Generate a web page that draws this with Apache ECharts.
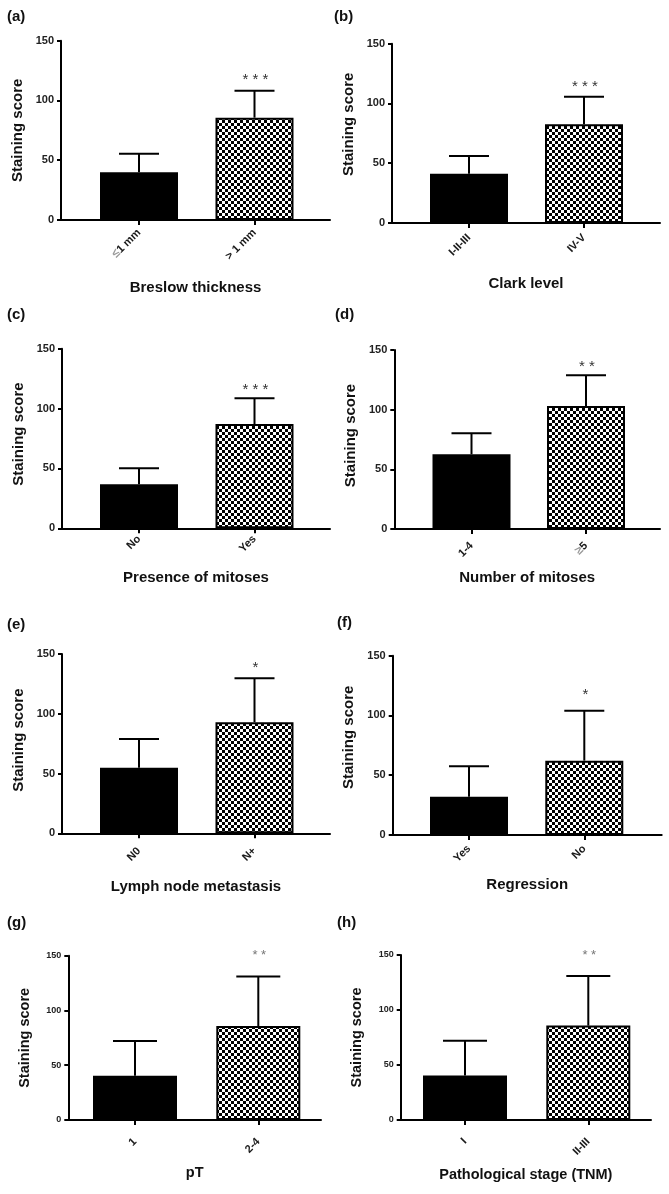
<!DOCTYPE html>
<html>
<head>
<meta charset="utf-8">
<script src="https://cdn.jsdelivr.net/npm/echarts@6/dist/echarts.min.js"></script>
<style>
html,body{margin:0;padding:0;background:#fff;}
#chart{width:669px;height:1194px;}
</style>
</head>
<body>
<div id="chart"></div>
<script>
// ---- data ----
const panelLabels = ['(a)', '(b)', '(c)', '(d)', '(e)', '(f)', '(g)', '(h)'];
const xTitles = ['Breslow thickness', 'Clark level', 'Presence of mitoses', 'Number of mitoses',
  'Lymph node metastasis', 'Regression', 'pT', 'Pathological stage (TNM)'];
const yTitle = 'Staining score';
const yTicks = [0, 50, 100, 150];

const catA = ['≤1 mm', '> 1 mm'];
const catB = ['I-II-III', 'IV-V'];
const catC = ['No', 'Yes'];
const catD = ['1-4', '≥5'];
const catE = ['N0', 'N+'];
const catF = ['Yes', 'No'];
const catG = ['1', '2-4'];
const catH = ['I', 'II-III'];

const meanA = [40, 85.6],  errA = [15.5, 22.6];
const meanB = [41.2, 82.6], errB = [14.8, 23.1];
const meanC = [36.7, 87.1], errC = [13.4, 21.5];
const meanD = [62.6, 103],  errD = [17.6, 25.8];
const meanE = [54.9, 92.9], errE = [24, 36.8];
const meanF = [32, 62.2],   errF = [25.5, 41.8];
const meanG = [40.5, 85.8], errG = [31.6, 45.1];
const meanH = [40.5, 85.8], errH = [31.6, 45.1];

const stars = ['***', '***', '***', '**', '*', '*', '**', '**'];

const cats = [catA, catB, catC, catD, catE, catF, catG, catH];
const means = [meanA, meanB, meanC, meanD, meanE, meanF, meanG, meanH];
const errs = [errA, errB, errC, errD, errE, errF, errG, errH];

// ---- layout (pixels) ----
const layout = [
  {L:61,    R:330,   c1:139,   c2:254.5, T:40.7,  B:220,   bw:78, hw:20, tick:11, nm:15, gapX:60, lm:11, yShift:0,  starOff:15, starSize:15, starCol:'#333', lx:7,   ly:9},
  {L:392,   R:660,   c1:469,   c2:584,   T:43.7,  B:223,   bw:78, hw:20, tick:11, nm:15, gapX:53, lm:13, yShift:18, starOff:14, starSize:15, starCol:'#333', lx:334, ly:9},
  {L:62,    R:330,   c1:139,   c2:254.5, T:348.7, B:528.3, bw:78, hw:20, tick:11, nm:15, gapX:42, lm:9,  yShift:9,  starOff:12, starSize:15, starCol:'#333', lx:7,   ly:307},
  {L:394.3, R:660,   c1:471.5, c2:586,   T:350,   B:529,   bw:78, hw:20, tick:11, nm:15, gapX:41, lm:15, yShift:8,  starOff:12, starSize:15, starCol:'#333', lx:335, ly:307},
  {L:62,    R:330,   c1:139,   c2:254.5, T:654,   B:833.3, bw:78, hw:20, tick:11, nm:15, gapX:46, lm:16, yShift:7,  starOff:14, starSize:15, starCol:'#333', lx:7,   ly:617},
  {L:392.7, R:661.7, c1:469,   c2:584.3, T:655.7, B:835,   bw:78, hw:20, tick:11, nm:15, gapX:42, lm:12, yShift:16, starOff:20, starSize:15, starCol:'#333', lx:337, ly:615},
  {L:68.3,  R:321,   c1:135,   c2:258.3, T:955.7, B:1120,  bw:84, hw:22, tick:9,  nm:14.5, gapX:45, lm:20, yShift:0, starOff:24, starSize:13, starCol:'#777', lx:7,   ly:915},
  {L:400.7, R:651,   c1:465,   c2:588.3, T:955,   B:1120,  bw:84, hw:22, tick:9,  nm:14.5, gapX:47, lm:20, yShift:0, starOff:24, starSize:13, starCol:'#777', lx:337, ly:915}
];

const FONT = "'Liberation Sans', Arial, sans-serif";

// checkerboard pattern
const pat = document.createElement('canvas');
pat.width = 6; pat.height = 6;
const pc = pat.getContext('2d');
pc.fillStyle = '#fff'; pc.fillRect(0, 0, 6, 6);
pc.fillStyle = '#000'; pc.fillRect(0, 0, 3, 3); pc.fillRect(3, 3, 3, 3);
const pattern = { image: pat, repeat: 'repeat' };

const grids = [], xAxes = [], yAxes = [], series = [], titles = [];

layout.forEach((g, i) => {
  const sp = g.c2 - g.c1;
  const xmin = 1 - (g.c1 - g.L) / sp;
  const xmax = 2 + (g.R - g.c2) / sp;
  const c = cats[i];
  grids.push({ left: g.L, top: g.T, width: g.R - g.L, height: g.B - g.T,
    containLabel: false, outerBoundsMode: 'none' });
  xAxes.push({
    type: 'value', gridIndex: i, min: xmin, max: xmax,
    name: xTitles[i], nameLocation: 'middle', nameGap: g.gapX, nameMoveOverlap: false,
    nameTextStyle: { fontFamily: FONT, fontWeight: 'bold', fontSize: g.nm, color: '#111' },
    splitLine: { show: false },
    axisLine: { show: true, onZero: false, lineStyle: { color: '#000', width: 2 } },
    axisTick: { show: true, length: 5, customValues: [1, 2], lineStyle: { color: '#000', width: 2 } },
    axisLabel: {
      customValues: [1, 2], rotate: 45, margin: g.lm,
      fontFamily: FONT, fontSize: 11, fontWeight: 'bold', color: '#1a1a1a',
      formatter: v => {
        const s = c[Math.round(v) - 1] || '';
        return s.replace(/([≤≥])/g, '{g|$1}');
      },
      rich: { g: { color: '#9a9a9a', fontSize: 12, fontFamily: FONT } }
    }
  });
  yAxes.push({
    type: 'value', gridIndex: i, min: yTicks[0], max: yTicks[yTicks.length - 1],
    interval: yTicks[1] - yTicks[0],
    name: yTitle, nameLocation: 'middle', nameGap: 36, nameRotate: 90,
    nameTextStyle: { fontFamily: FONT, fontWeight: 'bold', fontSize: g.nm, color: '#111',
      padding: [0, 0, 0, g.yShift] },
    splitLine: { show: false },
    axisLine: { show: true, lineStyle: { color: '#000', width: 2 } },
    axisTick: { show: true, length: 4, lineStyle: { color: '#000', width: 2 } },
    axisLabel: { fontFamily: FONT, fontWeight: 'bold', fontSize: g.tick, color: '#222', margin: 7 }
  });
  series.push({
    type: 'bar', xAxisIndex: i, yAxisIndex: i, barWidth: g.bw,
    data: means[i].map((m, k) => ({
      value: [k + 1, m],
      itemStyle: k === 0
        ? { color: '#000', borderColor: '#000', borderWidth: 0 }
        : { color: pattern, borderColor: '#000', borderWidth: 2 }
    })),
    z: 2
  });
  series.push({
    type: 'custom', xAxisIndex: i, yAxisIndex: i, z: 3, clip: false,
    data: means[i].map((m, k) => [k + 1, m, m + errs[i][k]]),
    encode: { x: 0, y: [1, 2] },
    renderItem: (params, api) => {
      const x = api.value(0), m = api.value(1), u = api.value(2);
      const p0 = api.coord([x, m]);
      const p1 = api.coord([x, u]);
      const st = { stroke: '#000', lineWidth: 2 };
      const ch = [
        { type: 'line', shape: { x1: p0[0], y1: p0[1], x2: p1[0], y2: p1[1] }, style: st },
        { type: 'line', shape: { x1: p1[0] - g.hw, y1: p1[1], x2: p1[0] + g.hw, y2: p1[1] }, style: st }
      ];
      if (params.dataIndex === 1) {
        ch.push({ type: 'text', x: p1[0] + 1, y: p1[1] - g.starOff + g.starSize * 0.25,
          style: { text: stars[i].split('').join(' '), fill: g.starCol, font: g.starSize + 'px ' + FONT,
            align: 'center', verticalAlign: 'middle' } });
      }
      return { type: 'group', children: ch };
    }
  });
  titles.push({ text: panelLabels[i], left: g.lx, top: g.ly, padding: 0,
    textStyle: { fontFamily: FONT, fontWeight: 'bold', fontSize: 15, color: '#111' } });
});

const chart = echarts.init(document.getElementById('chart'), null, { renderer: 'canvas' });
chart.setOption({
  backgroundColor: '#fff',
  animation: false,
  title: titles,
  grid: grids,
  xAxis: xAxes,
  yAxis: yAxes,
  series: series
});
</script>
</body>
</html>
